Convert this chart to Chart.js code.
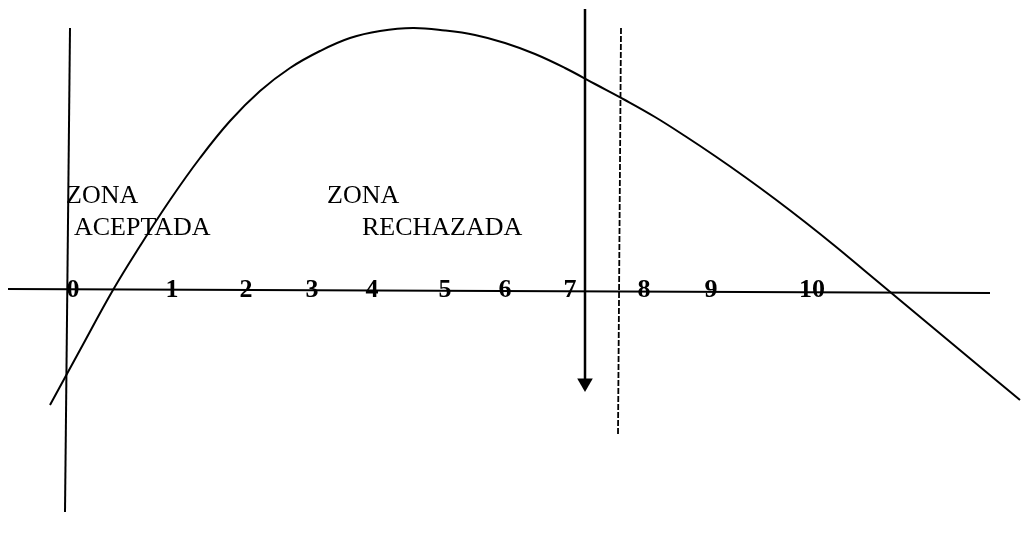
<!DOCTYPE html>
<html>
<head>
<meta charset="utf-8">
<script src="https://cdn.jsdelivr.net/npm/chart.js@4.4.1/dist/chart.umd.min.js"></script>
<style>
  html, body { margin: 0; padding: 0; background: #fff; }
  canvas { display: block; }
</style>
</head>
<body>
<canvas id="grafico" width="1021" height="540"></canvas>
<script>
// diagram units: origin near the axes crossing, 1 unit = 10 px, y up
const curvaX = [-1.7, 1.3, 4.6, 7.3, 10.3, 13.3, 16.3, 19.3, 22.3, 25.3, 28.3, 31.3, 34.6, 37.8, 40.8, 43.8, 46.8, 49.8, 52.8, 55.8, 58.8, 61.8, 64.8, 67.8, 70.8, 73.8, 76.8, 79.8, 82.8, 85.8, 88.8, 91.8, 95.3];
const curvaY = [-11.5, -6.0, 0, 4.4, 9.0, 13.2, 16.9, 19.9, 22.2, 23.9, 25.2, 25.9, 26.2, 25.95, 25.5, 24.7, 23.6, 22.2, 20.6, 19.0, 17.3, 15.4, 13.4, 11.3, 9.1, 6.8, 4.4, 1.9, -0.6, -3.1, -5.6, -8.1, -11.0];

const ejeHorizontal = [{ x: -5.9, y: 0.1 }, { x: 92.3, y: -0.3 }];
const ejeVertical = [{ x: 0.3, y: 26.2 }, { x: -0.2, y: -22.2 }];
const flecha = [{ x: 51.8, y: 28.1 }, { x: 51.8, y: -9.3 }];
const limite = [{ x: 55.4, y: 26.2 }, { x: 55.1, y: -14.5 }];

const etiquetasEje = ["0", "1", "2", "3", "4", "5", "6", "7", "8", "9", "10"];
const posicionEtiquetas = [0.6, 10.5, 17.9, 24.5, 30.5, 37.8, 43.8, 50.3, 57.7, 64.4, 74.5];
const baseEtiquetas = -0.73;

const textos = ["ZONA", "ACEPTADA", "ZONA", "RECHAZADA"];
const textosX = [-0.1, 0.7, 26.0, 29.5];
const textosY = [8.7, 5.5, 8.7, 5.5];

const curva = curvaX.map((x, i) => ({ x, y: curvaY[i] }));

const linea = (data, extra) => Object.assign({
  data,
  showLine: true,
  borderColor: "#000",
  borderWidth: 2,
  pointRadius: 0,
  fill: false,
  clip: false,
}, extra);

const textosPlugin = {
  id: "textos",
  afterDatasetsDraw(chart) {
    const { ctx, scales } = chart;
    ctx.save();
    ctx.fillStyle = "#000";
    ctx.textBaseline = "alphabetic";

    ctx.font = "bold 26px 'Liberation Serif', 'Times New Roman', serif";
    ctx.textAlign = "center";
    etiquetasEje.forEach((t, i) => {
      ctx.fillText(t, scales.x.getPixelForValue(posicionEtiquetas[i]), scales.y.getPixelForValue(baseEtiquetas));
    });

    ctx.font = "26px 'Liberation Serif', 'Times New Roman', serif";
    ctx.textAlign = "left";
    textos.forEach((t, i) => {
      ctx.fillText(t, scales.x.getPixelForValue(textosX[i]), scales.y.getPixelForValue(textosY[i]));
    });
    ctx.restore();
  },
};

new Chart(document.getElementById("grafico"), {
  type: "scatter",
  data: {
    datasets: [
      linea(ejeHorizontal),
      linea(ejeVertical),
      linea(curva, { tension: 0.4 }),
      linea(flecha, {
        borderWidth: 2.5,
        pointRadius: [0, 9],
        pointStyle: "triangle",
        rotation: 180,
        pointBackgroundColor: "#000",
        pointBorderColor: "#000",
        pointBorderWidth: 0,
      }),
      linea(limite, { borderWidth: 1.8, borderDash: [6, 2] }),
    ],
  },
  options: {
    responsive: false,
    animation: false,
    layout: { padding: 0, autoPadding: false },
    plugins: { legend: { display: false }, tooltip: { enabled: false } },
    scales: {
      x: { type: "linear", min: -6.7, max: 95.4, display: false },
      y: { type: "linear", min: -25, max: 29, display: false },
    },
  },
  plugins: [textosPlugin],
});
</script>
</body>
</html>
